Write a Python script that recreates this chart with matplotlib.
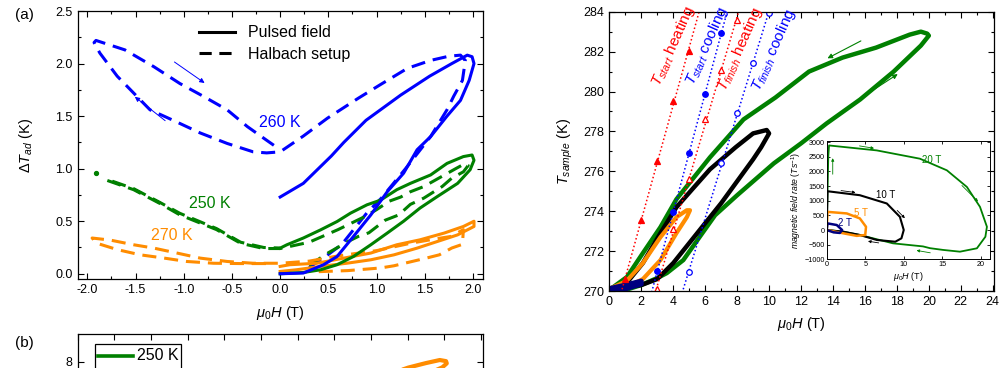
import numpy as np
import matplotlib
matplotlib.use("Agg")
import matplotlib.pyplot as plt
from matplotlib.lines import Line2D
from matplotlib.patches import Rectangle
from matplotlib.ticker import MultipleLocator, FormatStrFormatter

plt.rcParams['font.family'] = 'Liberation Sans'
plt.rcParams['mathtext.fontset'] = 'custom'
plt.rcParams['mathtext.rm'] = 'Liberation Sans'
plt.rcParams['mathtext.it'] = 'Liberation Sans:italic'
plt.rcParams['axes.linewidth'] = 0.9

BLUE = '#0000ff'
GREEN = '#008000'
ORANGE = '#ff8c00'
RED = '#ff0000'
NAVY = '#000080'

# ---------------- panel (a): pulsed field (solid) ----------------
p260_H = [0.0, 0.24, 0.45, 0.59, 0.76, 0.94, 1.11, 1.28, 1.42, 1.56, 1.73, 1.87, 1.96, 2.01, 1.99,
          1.94, 1.78, 1.55, 1.25, 0.89, 0.66, 0.53, 0.24, 0.0]
p260_T = [0.0, 0.007, 0.086, 0.164, 0.355, 0.56, 0.78, 0.957, 1.18, 1.305, 1.50, 1.65, 1.84, 2.0, 2.065,
          2.08, 2.0, 1.88, 1.70, 1.46, 1.25, 1.12, 0.86, 0.73]

p250_H = [0.0, 0.24, 0.42, 0.59, 0.76, 0.94, 1.11, 1.28, 1.45, 1.63, 1.84, 1.97, 2.01, 1.99,
          1.90, 1.73, 1.56, 1.35, 1.21, 1.04, 0.90, 0.73, 0.59, 0.42, 0.24, 0.07, 0.0]
p250_T = [0.0, 0.012, 0.038, 0.086, 0.164, 0.276, 0.387, 0.50, 0.625, 0.735, 0.86, 0.99, 1.08, 1.13,
          1.115, 1.05, 0.94, 0.86, 0.80, 0.70, 0.656, 0.577, 0.497, 0.418, 0.34, 0.276, 0.244]

p270_H = [0.0, 0.17, 0.42, 0.69, 0.94, 1.18, 1.42, 1.63, 1.84, 2.01, 2.01,
          1.90, 1.70, 1.45, 1.21, 0.94, 0.66, 0.38, 0.10, 0.0]
p270_T = [0.022, 0.038, 0.07, 0.10, 0.133, 0.18, 0.244, 0.307, 0.37, 0.45, 0.50,
          0.45, 0.387, 0.323, 0.276, 0.197, 0.149, 0.10, 0.086, 0.07]

# ---------------- panel (a): Halbach setup (dashed) ----------------
h260_H = [0.3, 0.45, 0.64, 0.9, 1.05, 1.3, 1.56, 1.73, 1.80, 1.89, 1.92,
          1.87, 1.75, 1.56, 1.32, 1.04, 0.81, 0.49, 0.24, 0.0,
          -0.14, -0.28, -0.55, -0.83, -1.11, -1.35, -1.52, -1.69, -1.87, -1.93,
          -1.91, -1.61, -1.31, -1.04, -0.80, -0.55, -0.34, -0.14, 0.0]
h260_T = [0.06, 0.15, 0.28, 0.58, 0.72, 1.0, 1.305, 1.56, 1.69, 1.84, 2.03,
          2.08, 2.07, 2.03, 1.955, 1.80, 1.67, 1.48, 1.31, 1.16,
          1.15, 1.16, 1.24, 1.34, 1.46, 1.56, 1.72, 1.88, 2.10, 2.20,
          2.22, 2.13, 1.97, 1.81, 1.69, 1.56, 1.40, 1.27, 1.18]

h250_H = [0.3, 0.5, 0.71, 0.81, 0.92, 1.09, 1.23, 1.35, 1.49, 1.68, 1.78, 1.90, 1.95,
          1.92, 1.82, 1.49, 1.35, 1.25, 1.13, 1.0, 0.88, 0.6, 0.3, 0.0,
          -0.17, -0.41, -0.66, -1.04, -1.25, -1.52, -1.80,
          -1.80, -1.52, -1.25, -1.04, -0.66, -0.41, -0.17, 0.0]
h250_T = [0.08, 0.2, 0.31, 0.355, 0.39, 0.51, 0.56, 0.66, 0.72, 0.83, 0.91, 0.97, 1.03,
          1.05, 1.00, 0.83, 0.78, 0.73, 0.69, 0.61, 0.545, 0.42, 0.3, 0.24,
          0.24, 0.29, 0.42, 0.56, 0.67, 0.80, 0.89,
          0.90, 0.81, 0.68, 0.575, 0.43, 0.30, 0.25, 0.245]
h250_dot = (-1.91, 0.96)

h270_H = [0.4, 0.7, 1.04, 1.18, 1.52, 1.65, 1.78, 1.89,
          1.90, 1.77, 1.6, 1.35, 1.0, 0.6, 0.3, 0.0,
          -0.12, -0.28, -0.55, -0.83, -1.07, -1.31, -1.52, -1.76, -1.95,
          -1.90, -1.69, -1.45, -1.21, -0.97, -0.69, -0.41, -0.14]
h270_T = [0.02, 0.03, 0.055, 0.076, 0.15, 0.18, 0.245, 0.28,
          0.42, 0.355, 0.33, 0.29, 0.22, 0.17, 0.12, 0.10,
          0.10, 0.10, 0.117, 0.149, 0.197, 0.244, 0.276, 0.32, 0.34,
          0.29, 0.23, 0.18, 0.15, 0.117, 0.10, 0.097, 0.097]

# ---------------- right panel: T_sample vs field ----------------
g20_H = [0, 1, 2, 3, 3.6, 4.63, 5.6, 6.62, 8, 10.3, 12, 13.6, 15.7, 17.8, 19.5, 20.0,
         19.9, 19.5, 18.8, 16.7, 14.6, 12.5, 10.4, 8.4, 6.3, 5.3, 4.2, 3.2, 2.1, 1.1, 0.25, 0]
g20_T = [270.0, 270.05, 270.3, 270.65, 270.9, 271.55, 272.65, 273.8, 274.8, 276.4, 277.4, 278.4,
         279.6, 281.0, 282.3, 282.8,
         282.9, 283.0, 282.85, 282.2, 281.7, 281.0, 279.7, 278.6, 276.7, 275.7, 274.6, 273.2,
         271.9, 270.7, 270.2, 270.1]

k10_H = [0, 1, 2, 3, 4, 5, 6, 7, 8, 9, 9.5, 10.0,
         9.85, 9.0, 7.9, 6.3, 5.3, 4.2, 3.2, 2.1, 1.08, 0]
k10_T = [270.1, 270.2, 270.3, 270.6, 271.4, 272.4, 273.4, 274.4, 275.5, 276.6, 277.2, 277.9,
         278.07, 277.9, 277.2, 276.1, 275.2, 274.2, 272.9, 271.4, 270.4, 270.1]

o5_H = [0, 1.08, 2.1, 3.2, 4.2, 4.85, 5.05, 4.85, 4.2, 3.2, 2.1, 1.08, 0]
o5_T = [270.1, 270.2, 270.6, 271.55, 272.9, 273.7, 274.05, 274.05, 273.7, 272.7, 271.4, 270.5, 270.1]

n2_H = [0, 1, 2, 2, 1, 0]
n2_T = [270.0, 270.1, 270.35, 270.5, 270.3, 270.12]

start_heat_H = [1, 2, 3, 4, 5]
start_heat_T = [270.6, 273.55, 276.5, 279.5, 282.05]
start_cool_H = [3, 4, 5, 6, 7]
start_cool_T = [271.0, 273.95, 276.93, 279.87, 282.92]
finish_heat_H = [3, 4, 5, 6, 7, 8]
finish_heat_T = [270.09, 273.09, 275.6, 278.6, 281.08, 283.58]
finish_cool_H = [5, 7, 8, 9, 10]
finish_cool_T = [270.95, 276.4, 278.9, 281.44, 283.95]

# ---------------- inset: field rate vs field ----------------
r20_H = [0, 0.2, 0.3, 6.5, 12.1, 15.6, 18.2, 19.9, 20.8, 20.6, 19.5, 17.3, 15.1, 13.4, 12.5, 8.6, 4.3, 2.2, 0]
r20_R = [0, 2500, 2887, 2718, 2435, 2038, 1470, 790, 110, -230, -625, -740, -680, -620, -560, -455, -170, -60, 0]
r10_H = [0, 0.1, 4.3, 7.8, 9.5, 10.0, 9.7, 8.9, 6.5, 4.3, 2.2, 0]
r10_R = [0, 1324, 1188, 906, 450, 0, -284, -400, -340, -170, -60, 0]
r5_H = [0, 0.1, 2.6, 4.3, 5.1, 5.0, 3.9, 2.2, 0]
r5_R = [0, 620, 566, 396, 110, -170, -200, -115, 0]
r2_H = [0, 0.1, 1.3, 2.0, 1.7, 0.9, 0]
r2_R = [0, 226, 170, 0, -100, -80, 0]

# ---------------- panel (b) (cut off at the bottom) ----------------
b270_x = [8.6, 9.02, 9.5, 9.88, 10.05, 10.07, 9.95, 9.6]
b270_y = [7.6, 7.79, 7.95, 8.06, 8.02, 7.94, 7.8, 7.6]

W, H = 1006, 368
fig = plt.figure(figsize=(W / 100, H / 100), dpi=100)

def style(ax, fs=9):
    ax.tick_params(which='both', direction='in', top=True, right=True, labelsize=fs)
    ax.tick_params(which='major', length=4, width=0.8)
    ax.tick_params(which='minor', length=2.5, width=0.8)

# ---- (a)
ax = fig.add_axes([0.0772, 0.2418, 0.4026, 0.7283])
DASH = (0, (4.6, 2.6))
LW = 2.2
ax.plot(h260_H, h260_T, color=BLUE, lw=LW, ls=DASH)
ax.plot(h250_H, h250_T, color=GREEN, lw=LW, ls=DASH)
ax.plot(*h250_dot, 'o', color=GREEN, ms=2.8)
ax.plot(h270_H, h270_T, color=ORANGE, lw=LW, ls=DASH)
ax.plot(p270_H, p270_T, color=ORANGE, lw=LW)
ax.plot(p250_H, p250_T, color=GREEN, lw=LW)
ax.plot(p260_H, p260_T, color=BLUE, lw=LW)
ax.set_xlim(-2.1, 2.1)
ax.set_ylim(-0.05, 2.5)
ax.xaxis.set_major_locator(MultipleLocator(0.5))
ax.xaxis.set_minor_locator(MultipleLocator(0.25))
ax.yaxis.set_major_locator(MultipleLocator(0.5))
ax.yaxis.set_minor_locator(MultipleLocator(0.25))
ax.xaxis.set_major_formatter(FormatStrFormatter('%.1f'))
ax.yaxis.set_major_formatter(FormatStrFormatter('%.1f'))
style(ax)
ax.set_xlabel(r'$\mu_0H$ (T)', fontsize=10.5, labelpad=6)
ax.set_ylabel(r'$\mathit{\Delta}T_{ad}$ (K)', fontsize=10.5, labelpad=15)
ax.text(0.0, 1.44, '260 K', color=BLUE, fontsize=11.5, ha='center', va='center')
ax.text(-0.73, 0.67, '250 K', color=GREEN, fontsize=11.5, ha='center', va='center')
ax.text(-1.12, 0.36, '270 K', color=ORANGE, fontsize=11.5, ha='center', va='center')
ax.annotate('', xy=(-0.76, 1.80), xytext=(-1.12, 2.03),
            arrowprops=dict(arrowstyle='-|>', color=BLUE, lw=0.7, mutation_scale=7))
ax.annotate('', xy=(-1.53, 1.70), xytext=(-1.17, 1.44),
            arrowprops=dict(arrowstyle='-|>', color=BLUE, lw=0.7, mutation_scale=7))
handles = [Line2D([], [], color='black', lw=2.2),
           Line2D([], [], color='black', lw=2.2, ls=(0, (4, 2.5)))]
ax.legend(handles, ['Pulsed field', 'Halbach setup'], loc='upper left',
          bbox_to_anchor=(185 / W, 1 - 11 / H), bbox_transform=fig.transFigure,
          frameon=False, fontsize=11.5, handlelength=2.2, handletextpad=0.85,
          labelspacing=0.4, borderpad=0.4)
fig.text(15 / W, 1 - 15 / H, '(a)', fontsize=11, ha='left', va='center')

# ---- (b) cut off by the figure edge
axb = fig.add_axes([0.0772, -0.5916, 0.4026, 0.6848])
axb.plot(b270_x, b270_y, color=ORANGE, lw=3)
axb.set_xlim(0, 11.05)
axb.set_ylim(0, 9)
axb.xaxis.set_major_locator(MultipleLocator(1))
axb.set_yticks([8])
style(axb, fs=9)
axb.tick_params(labelbottom=False)
fig.add_artist(Rectangle((95 / W, 1 - 420 / H), 85.7 / W, (420 - 344.3) / H,
                         transform=fig.transFigure, facecolor='white', edgecolor='black', lw=0.9))
fig.add_artist(Line2D([98 / W, 133.3 / W], [1 - 355.7 / H] * 2, transform=fig.transFigure,
                      color=GREEN, lw=2.6))
fig.text(137.3 / W, 1 - 355.7 / H, '250 K', fontsize=11.5, ha='left', va='center')
fig.text(15 / W, 1 - 343 / H, '(b)', fontsize=11, ha='left', va='center')

# ---- right panel
ax2 = fig.add_axes([0.6057, 0.2092, 0.3827, 0.759])
ax2.plot(g20_H, g20_T, color=GREEN, lw=3.2)
ax2.plot(k10_H, k10_T, color='black', lw=3.2)
ax2.plot(o5_H, o5_T, color=ORANGE, lw=3.0)
ax2.plot(n2_H, n2_T, color=NAVY, lw=3.5)

xx = np.array([0, 12])
for hh, tt, col, mk, mfc in [(start_heat_H, start_heat_T, RED, '^', RED),
                             (start_cool_H, start_cool_T, BLUE, 'o', BLUE),
                             (finish_heat_H, finish_heat_T, RED, '^', 'white'),
                             (finish_cool_H, finish_cool_T, BLUE, 'o', 'white')]:
    k, b = np.polyfit(hh, tt, 1)
    ax2.plot(xx, k * xx + b, color=col, lw=1.1, ls=(0, (1, 1.6)))
    ax2.plot(hh, tt, ls='none', marker=mk, ms=4, color=col, mfc=mfc, mew=0.9)

lab_kw = dict(fontsize=11, rotation=66, ha='center', va='center', rotation_mode='anchor')
ax2.text(4.0, 282.26, r'$T_{start}$ heating', color=RED, **lab_kw)
ax2.text(6.1, 282.26, r'$T_{start}$ cooling', color=BLUE, **lab_kw)
ax2.text(8.18, 282.1, r'$T_{finish}$ heating', color=RED, **lab_kw)
ax2.text(10.27, 282.1, r'$T_{finish}$ cooling', color=BLUE, **lab_kw)
ax2.annotate('', xy=(13.5, 281.6), xytext=(15.9, 282.6),
             arrowprops=dict(arrowstyle='-|>', color=GREEN, lw=0.8, mutation_scale=7))
ax2.annotate('', xy=(18.2, 280.95), xytext=(15.8, 279.7),
             arrowprops=dict(arrowstyle='-|>', color=GREEN, lw=0.8, mutation_scale=7))
ax2.set_xlim(0, 24.1)
ax2.set_ylim(270, 284)
ax2.xaxis.set_major_locator(MultipleLocator(2))
ax2.xaxis.set_minor_locator(MultipleLocator(1))
ax2.yaxis.set_major_locator(MultipleLocator(2))
ax2.yaxis.set_minor_locator(MultipleLocator(1))
style(ax2)
ax2.set_xlabel(r'$\mu_0H$ (T)', fontsize=10.5, labelpad=5)
ax2.set_ylabel(r'$T_{sample}$ (K)', fontsize=10.5, labelpad=6)

# ---- inset
ax3 = fig.add_axes([0.8218, 0.2954, 0.1623, 0.3223])
ax3.plot(r20_H, r20_R, color=GREEN, lw=1.3)
ax3.plot(r10_H, r10_R, color='black', lw=1.5)
ax3.plot(r5_H, r5_R, color=ORANGE, lw=1.8)
ax3.plot(r2_H, r2_R, color=NAVY, lw=1.8)
ax3.set_xlim(0, 21.2)
ax3.set_ylim(-1000, 3050)
ax3.xaxis.set_major_locator(MultipleLocator(5))
ax3.yaxis.set_major_locator(MultipleLocator(500))
ax3.tick_params(which='both', direction='in', top=True, right=True, labelsize=5.2,
                length=2, width=0.6, pad=1.5)
for s in ax3.spines.values():
    s.set_linewidth(0.7)
ax3.set_xlabel(r'$\mu_0H$ (T)', fontsize=6.5, labelpad=1)
ax3.set_ylabel(r'$magnetic\ field\ rate\ (Ts^{-1})$', fontsize=6.2, labelpad=1)
ax3.text(13.6, 2400, '20 T', color=GREEN, fontsize=7, ha='center', va='center')
ax3.text(7.6, 1188, '10 T', color='black', fontsize=7, ha='center', va='center')
ax3.text(4.5, 580, '5 T', color=ORANGE, fontsize=7, ha='center', va='center')
ax3.text(2.4, 226, '2 T', color=NAVY, fontsize=7, ha='center', va='center')
arr = [((6.5, 2775), (3.9, 2887), GREEN), ((0.78, 2548), (0.78, 1810), GREEN),
       ((19.9, 905), (17.3, 1586), GREEN), ((11.3, -680), (13.8, -795), GREEN),
       ((4.1, 1267), (1.5, 1358), 'black'), ((10.4, 337), (8.9, 735), 'black'),
       ((5.0, -367), (7.1, -455), 'black')]
for tip, tail, col in arr:
    ax3.annotate('', xy=tip, xytext=tail,
                 arrowprops=dict(arrowstyle='-|>', color=col, lw=0.6, mutation_scale=4))

fig.savefig('out.png', dpi=100)
